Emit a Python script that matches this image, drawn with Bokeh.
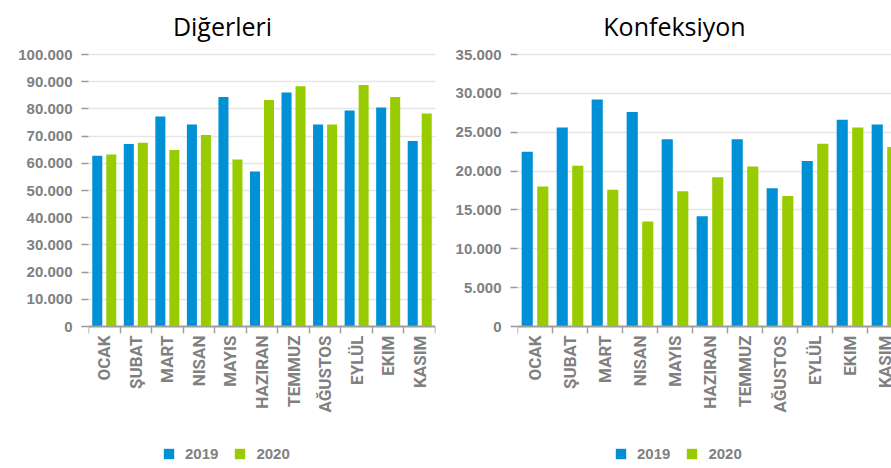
import math
from bokeh.plotting import figure
from bokeh.layouts import row
from bokeh.models import (Range1d, FixedTicker, Legend, LegendItem, LabelSet,
                          Label, ColumnDataSource)
from bokeh.core.properties import value
from bokeh.embed import file_html
from bokeh.resources import INLINE

months = ["OCAK", "ŞUBAT", "MART", "NISAN", "MAYIS", "HAZIRAN",
          "TEMMUZ", "AĞUSTOS", "EYLÜL", "EKIM", "KASIM"]
years = ["2019", "2020"]

digerleri_2019 = [62800, 67100, 77200, 74300, 84400, 57000, 86000, 74300, 79400, 80500, 68200]
digerleri_2020 = [63200, 67600, 64900, 70400, 61400, 83300, 88300, 74300, 88800, 84400, 78300]
digerleri_ticks = [0, 10000, 20000, 30000, 40000, 50000, 60000, 70000, 80000, 90000, 100000]
digerleri_tick_labels = ["0", "10.000", "20.000", "30.000", "40.000", "50.000",
                         "60.000", "70.000", "80.000", "90.000", "100.000"]

konf_2019 = [22500, 25600, 29200, 27600, 24100, 14200, 24100, 17800, 21300, 26600, 26000]
konf_2020 = [18000, 20700, 17600, 13500, 17400, 19200, 20600, 16800, 23500, 25600, 23100]
konf_ticks = [0, 5000, 10000, 15000, 20000, 25000, 30000, 35000]
konf_tick_labels = ["0", "5.000", "10.000", "15.000", "20.000", "25.000", "30.000", "35.000"]

BLUE = "#0090d5"
GREEN = "#99cc00"
GRAY = "#808080"
AXIS_GRAY = "#a0a0a0"

# layout (pixels)
H = 466            # figure height
TOP_PX = 54        # pixel row of the highest tick
ZERO_PX = 326      # pixel row of the zero line


def make_chart(title, v19, v20, ticks, tick_labels, width, min_left, min_right,
               cat_px, title_cx, legend_x):
    n = len(months)
    frame_w = width - min_left - min_right
    ymax = ticks[-1]
    per_px = ymax / (ZERO_PX - TOP_PX)
    y_range = Range1d(-(H - ZERO_PX) * per_px, ymax + TOP_PX * per_px)
    p = figure(width=width, height=H, x_range=Range1d(0, frame_w / cat_px),
               y_range=y_range, output_backend="svg", toolbar_location=None,
               min_border_left=min_left, min_border_right=min_right,
               min_border_top=0, min_border_bottom=0)
    p.outline_line_color = None
    p.background_fill_color = "white"
    p.border_fill_color = "white"

    centers = [i + 0.5 for i in range(n)]
    x19 = [c - 0.222 for c in centers]
    x20 = [c + 0.222 for c in centers]
    r1 = p.vbar(x=x19, top=v19, width=0.318, color=BLUE, line_color=None)
    r2 = p.vbar(x=x20, top=v20, width=0.318, color=GREEN, line_color=None)

    # title (title_cx is relative to this figure's left edge)
    p.add_layout(Label(x=title_cx - min_left, y=H - 25, x_units="screen",
                       y_units="screen", text=title, text_align="center",
                       text_baseline="alphabetic", text_font="Open Sans",
                       text_font_size="25px", text_color="black"))

    # grid
    p.xgrid.grid_line_color = None
    p.ygrid.ticker = FixedTicker(ticks=ticks)
    p.ygrid.grid_line_color = "#e6e6e6"
    p.ygrid.grid_line_width = 1.5

    # y axis
    ya = p.yaxis[0]
    ya.ticker = FixedTicker(ticks=ticks)
    ya.major_label_overrides = dict(zip(ticks, tick_labels))
    ya.axis_line_color = None
    ya.major_tick_in = 0
    ya.major_tick_out = 7
    ya.major_tick_line_color = "#999999"
    ya.major_tick_line_width = 1.5
    ya.minor_tick_line_color = None
    ya.major_label_standoff = 9
    ya.major_label_text_font = "Liberation Sans"
    ya.major_label_text_font_style = "bold"
    ya.major_label_text_font_size = "15px"
    ya.major_label_text_color = GRAY

    # x axis at zero: separator ticks between months
    xa = p.xaxis[0]
    xa.fixed_location = 0
    xa.ticker = FixedTicker(ticks=[], minor_ticks=list(range(n + 1)))
    xa.axis_line_color = AXIS_GRAY
    xa.axis_line_width = 2
    xa.major_tick_line_color = None
    xa.major_tick_out = 0
    xa.major_label_standoff = 0
    xa.minor_tick_in = 0
    xa.minor_tick_out = 7
    xa.minor_tick_line_color = AXIS_GRAY
    xa.minor_tick_line_width = 1.5

    # month labels, rotated
    src = ColumnDataSource(dict(x=centers, y=[0] * n, text=months))
    p.add_layout(LabelSet(x="x", y="y", text="text", source=src, y_offset=-9,
                          angle=math.pi / 2, text_align="right",
                          text_baseline="middle", text_font=value("Roboto"),
                          text_font_style="bold", text_font_size="17px",
                          text_color=GRAY))

    legend = Legend(items=[LegendItem(label=years[0], renderers=[r1]),
                           LegendItem(label=years[1], renderers=[r2])],
                    orientation="horizontal", location=(legend_x, 4))
    legend.glyph_width = 13
    legend.glyph_height = 13
    legend.label_height = 13
    legend.label_standoff = 10
    legend.spacing = 15
    legend.padding = 0
    legend.margin = 0
    legend.border_line_color = None
    legend.background_fill_alpha = 0
    legend.label_text_font = "Liberation Sans"
    legend.label_text_font_style = "bold"
    legend.label_text_font_size = "15px"
    legend.label_text_color = GRAY
    p.add_layout(legend, "center")
    return p


p1 = make_chart("Diğerleri", digerleri_2019, digerleri_2020, digerleri_ticks,
                digerleri_tick_labels, 445, 88, 10, 347 / 11, 222, 74)
p2 = make_chart("Konfeksiyon", konf_2019, konf_2020, konf_ticks,
                konf_tick_labels, 446, 72, 0, 35, 674 - 445, 97)

layout = row(p1, p2, spacing=0)
open("out.html", "w").write(file_html(layout, INLINE))
